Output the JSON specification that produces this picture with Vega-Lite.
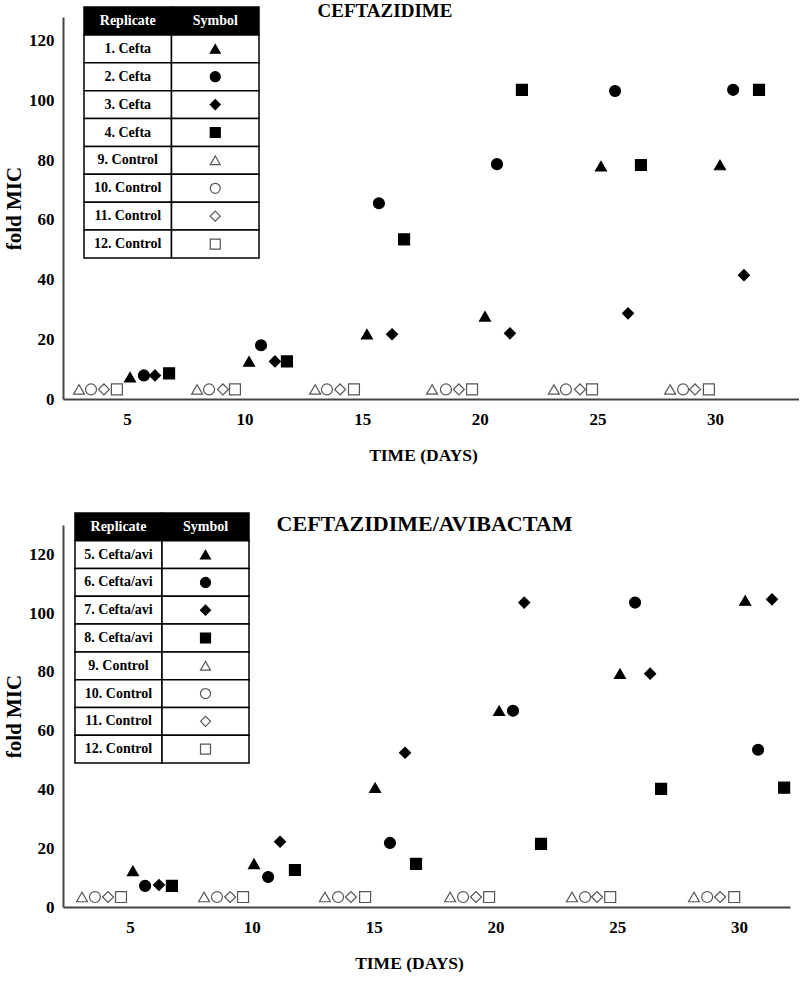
{
  "$schema": "https://vega.github.io/schema/vega-lite/v6.json",
  "padding": {"left": 3, "top": 2, "right": 0, "bottom": 0},
  "spacing": 48,
  "config": {
    "font": "Liberation Serif",
    "view": {"stroke": null},
    "axis": {"domainColor": "#444", "domainWidth": 2, "ticks": false, "tickSize": 0, "grid": false, "labelFont": "Liberation Serif", "labelFontSize": 17, "labelFontWeight": "bold", "labelColor": "#000", "titleFont": "Liberation Serif", "titleFontWeight": "bold", "titleColor": "#000"},
    "axisX": {"labelPadding": 12, "titleFontSize": 17.5, "titlePadding": 19},
    "axisY": {"labelPadding": 9, "titleFontSize": 21, "titlePadding": 4},
    "title": {"font": "Liberation Serif", "fontWeight": "bold", "color": "#000", "frame": "group"}
  },
  "datasets": {
    "hdr": [{"row": 0, "col": "Replicate"}, {"row": 0, "col": "Symbol"}],
    "top_tbl": [
      {"row": 1, "label": "1. Cefta", "sym": "tri", "type": "drug"},
      {"row": 2, "label": "2. Cefta", "sym": "circ", "type": "drug"},
      {"row": 3, "label": "3. Cefta", "sym": "diam", "type": "drug"},
      {"row": 4, "label": "4. Cefta", "sym": "sq", "type": "drug"},
      {"row": 5, "label": "9. Control", "sym": "tri", "type": "control"},
      {"row": 6, "label": "10. Control", "sym": "circ", "type": "control"},
      {"row": 7, "label": "11. Control", "sym": "diam", "type": "control"},
      {"row": 8, "label": "12. Control", "sym": "sq", "type": "control"}
    ],
    "bot_tbl": [
      {"row": 1, "label": "5. Cefta/avi", "sym": "tri", "type": "drug"},
      {"row": 2, "label": "6. Cefta/avi", "sym": "circ", "type": "drug"},
      {"row": 3, "label": "7. Cefta/avi", "sym": "diam", "type": "drug"},
      {"row": 4, "label": "8. Cefta/avi", "sym": "sq", "type": "drug"},
      {"row": 5, "label": "9. Control", "sym": "tri", "type": "control"},
      {"row": 6, "label": "10. Control", "sym": "circ", "type": "control"},
      {"row": 7, "label": "11. Control", "sym": "diam", "type": "control"},
      {"row": 8, "label": "12. Control", "sym": "sq", "type": "control"}
    ],
    "top_pts": [
      {"day": 2.96, "mic": 3.2, "sym": "tri", "type": "control"},
      {"day": 3.47, "mic": 3.2, "sym": "circ", "type": "control"},
      {"day": 4.02, "mic": 3.2, "sym": "diam", "type": "control"},
      {"day": 4.57, "mic": 3.2, "sym": "sq", "type": "control"},
      {"day": 7.98, "mic": 3.2, "sym": "tri", "type": "control"},
      {"day": 8.49, "mic": 3.2, "sym": "circ", "type": "control"},
      {"day": 9.08, "mic": 3.2, "sym": "diam", "type": "control"},
      {"day": 9.59, "mic": 3.2, "sym": "sq", "type": "control"},
      {"day": 13.0, "mic": 3.2, "sym": "tri", "type": "control"},
      {"day": 13.5, "mic": 3.2, "sym": "circ", "type": "control"},
      {"day": 14.06, "mic": 3.2, "sym": "diam", "type": "control"},
      {"day": 14.65, "mic": 3.2, "sym": "sq", "type": "control"},
      {"day": 17.97, "mic": 3.2, "sym": "tri", "type": "control"},
      {"day": 18.56, "mic": 3.2, "sym": "circ", "type": "control"},
      {"day": 19.11, "mic": 3.2, "sym": "diam", "type": "control"},
      {"day": 19.67, "mic": 3.2, "sym": "sq", "type": "control"},
      {"day": 23.15, "mic": 3.2, "sym": "tri", "type": "control"},
      {"day": 23.66, "mic": 3.2, "sym": "circ", "type": "control"},
      {"day": 24.26, "mic": 3.2, "sym": "diam", "type": "control"},
      {"day": 24.77, "mic": 3.2, "sym": "sq", "type": "control"},
      {"day": 28.09, "mic": 3.2, "sym": "tri", "type": "control"},
      {"day": 28.64, "mic": 3.2, "sym": "circ", "type": "control"},
      {"day": 29.15, "mic": 3.2, "sym": "diam", "type": "control"},
      {"day": 29.74, "mic": 3.2, "sym": "sq", "type": "control"},
      {"day": 5.13, "mic": 7.3, "sym": "tri", "type": "drug"},
      {"day": 5.72, "mic": 7.9, "sym": "circ", "type": "drug"},
      {"day": 6.19, "mic": 7.9, "sym": "diam", "type": "drug"},
      {"day": 6.79, "mic": 8.6, "sym": "sq", "type": "drug"},
      {"day": 10.19, "mic": 12.6, "sym": "tri", "type": "drug"},
      {"day": 10.7, "mic": 18.0, "sym": "circ", "type": "drug"},
      {"day": 11.29, "mic": 12.6, "sym": "diam", "type": "drug"},
      {"day": 11.8, "mic": 12.6, "sym": "sq", "type": "drug"},
      {"day": 15.2, "mic": 21.7, "sym": "tri", "type": "drug"},
      {"day": 15.71, "mic": 65.6, "sym": "circ", "type": "drug"},
      {"day": 16.27, "mic": 21.7, "sym": "diam", "type": "drug"},
      {"day": 16.78, "mic": 53.5, "sym": "sq", "type": "drug"},
      {"day": 20.22, "mic": 27.7, "sym": "tri", "type": "drug"},
      {"day": 20.73, "mic": 78.7, "sym": "circ", "type": "drug"},
      {"day": 21.28, "mic": 22.0, "sym": "diam", "type": "drug"},
      {"day": 21.79, "mic": 103.6, "sym": "sq", "type": "drug"},
      {"day": 25.15, "mic": 78.0, "sym": "tri", "type": "drug"},
      {"day": 25.75, "mic": 103.2, "sym": "circ", "type": "drug"},
      {"day": 26.3, "mic": 28.7, "sym": "diam", "type": "drug"},
      {"day": 26.85, "mic": 78.4, "sym": "sq", "type": "drug"},
      {"day": 30.21, "mic": 78.4, "sym": "tri", "type": "drug"},
      {"day": 30.77, "mic": 103.6, "sym": "circ", "type": "drug"},
      {"day": 31.23, "mic": 41.5, "sym": "diam", "type": "drug"},
      {"day": 31.87, "mic": 103.6, "sym": "sq", "type": "drug"}
    ],
    "bot_pts": [
      {"day": 3.03, "mic": 3.4, "sym": "tri", "type": "control"},
      {"day": 3.56, "mic": 3.4, "sym": "circ", "type": "control"},
      {"day": 4.1, "mic": 3.4, "sym": "diam", "type": "control"},
      {"day": 4.63, "mic": 3.4, "sym": "sq", "type": "control"},
      {"day": 8.04, "mic": 3.4, "sym": "tri", "type": "control"},
      {"day": 8.57, "mic": 3.4, "sym": "circ", "type": "control"},
      {"day": 9.11, "mic": 3.4, "sym": "diam", "type": "control"},
      {"day": 9.64, "mic": 3.4, "sym": "sq", "type": "control"},
      {"day": 13.0, "mic": 3.4, "sym": "tri", "type": "control"},
      {"day": 13.54, "mic": 3.4, "sym": "circ", "type": "control"},
      {"day": 14.07, "mic": 3.4, "sym": "diam", "type": "control"},
      {"day": 14.65, "mic": 3.4, "sym": "sq", "type": "control"},
      {"day": 18.14, "mic": 3.4, "sym": "tri", "type": "control"},
      {"day": 18.67, "mic": 3.4, "sym": "circ", "type": "control"},
      {"day": 19.2, "mic": 3.4, "sym": "diam", "type": "control"},
      {"day": 19.74, "mic": 3.4, "sym": "sq", "type": "control"},
      {"day": 23.14, "mic": 3.4, "sym": "tri", "type": "control"},
      {"day": 23.68, "mic": 3.4, "sym": "circ", "type": "control"},
      {"day": 24.17, "mic": 3.4, "sym": "diam", "type": "control"},
      {"day": 24.71, "mic": 3.4, "sym": "sq", "type": "control"},
      {"day": 28.15, "mic": 3.4, "sym": "tri", "type": "control"},
      {"day": 28.69, "mic": 3.4, "sym": "circ", "type": "control"},
      {"day": 29.22, "mic": 3.4, "sym": "diam", "type": "control"},
      {"day": 29.8, "mic": 3.4, "sym": "sq", "type": "control"},
      {"day": 5.12, "mic": 12.3, "sym": "tri", "type": "drug"},
      {"day": 5.62, "mic": 7.2, "sym": "circ", "type": "drug"},
      {"day": 6.19, "mic": 7.5, "sym": "diam", "type": "drug"},
      {"day": 6.72, "mic": 7.2, "sym": "sq", "type": "drug"},
      {"day": 10.09, "mic": 14.7, "sym": "tri", "type": "drug"},
      {"day": 10.67, "mic": 10.2, "sym": "circ", "type": "drug"},
      {"day": 11.16, "mic": 22.2, "sym": "diam", "type": "drug"},
      {"day": 11.77, "mic": 12.6, "sym": "sq", "type": "drug"},
      {"day": 15.06, "mic": 40.6, "sym": "tri", "type": "drug"},
      {"day": 15.67, "mic": 21.8, "sym": "circ", "type": "drug"},
      {"day": 16.29, "mic": 52.5, "sym": "diam", "type": "drug"},
      {"day": 16.74, "mic": 14.7, "sym": "sq", "type": "drug"},
      {"day": 20.15, "mic": 66.8, "sym": "tri", "type": "drug"},
      {"day": 20.72, "mic": 66.8, "sym": "circ", "type": "drug"},
      {"day": 21.18, "mic": 103.6, "sym": "diam", "type": "drug"},
      {"day": 21.87, "mic": 21.5, "sym": "sq", "type": "drug"},
      {"day": 25.11, "mic": 79.4, "sym": "tri", "type": "drug"},
      {"day": 25.73, "mic": 103.6, "sym": "circ", "type": "drug"},
      {"day": 26.35, "mic": 79.4, "sym": "diam", "type": "drug"},
      {"day": 26.8, "mic": 40.2, "sym": "sq", "type": "drug"},
      {"day": 30.25, "mic": 104.3, "sym": "tri", "type": "drug"},
      {"day": 30.78, "mic": 53.5, "sym": "circ", "type": "drug"},
      {"day": 31.35, "mic": 104.7, "sym": "diam", "type": "drug"},
      {"day": 31.85, "mic": 40.6, "sym": "sq", "type": "drug"}
    ]
  },
  "vconcat": [
    {
      "width": 736,
      "height": 382,
      "title": {"text": "CEFTAZIDIME", "fontSize": 19, "offset": -15, "dx": -46},
      "resolve": {"scale": {"x": "independent", "y": "independent"}},
      "layer": [
        {
          "data": {"name": "top_pts"},
          "mark": {"type": "point", "filled": true, "size": 120, "strokeWidth": 1.2, "opacity": 1},
          "encoding": {
            "x": {"field": "day", "type": "quantitative", "scale": {"domain": [2.28, 33.57], "zero": false, "nice": false}, "axis": {"title": "TIME (DAYS)", "values": [5, 10, 15, 20, 25, 30], "titleX": 360}},
            "y": {"field": "mic", "type": "quantitative", "scale": {"domain": [0, 128], "nice": false}, "axis": {"title": "fold MIC", "values": [0, 20, 40, 60, 80, 100, 120]}},
            "shape": {"field": "sym", "type": "nominal", "scale": {"domain": ["tri", "circ", "diam", "sq"], "range": ["triangle-up", "circle", "diamond", "square"]}, "legend": null},
            "fill": {"field": "type", "type": "nominal", "scale": {"domain": ["drug", "control"], "range": ["#000000", "#ffffff"]}, "legend": null},
            "stroke": {"field": "type", "type": "nominal", "scale": {"domain": ["drug", "control"], "range": ["#000000", "#555555"]}, "legend": null}
          }
        },
        {
          "layer": [
            {
              "data": {"name": "hdr"},
              "mark": {"type": "rect", "fill": "#000", "stroke": "#000", "strokeWidth": 1.5},
              "encoding": {
                "x": {"field": "col", "type": "nominal", "scale": {"domain": ["Replicate", "Symbol"], "range": [21, 196], "paddingInner": 0, "paddingOuter": 0}, "axis": null},
                "y": {"field": "row", "type": "ordinal", "scale": {"domain": [0, 1, 2, 3, 4, 5, 6, 7, 8], "range": [-10, 241], "paddingInner": 0, "paddingOuter": 0}, "axis": null}
              }
            },
            {
              "data": {"name": "hdr"},
              "mark": {"type": "text", "color": "#fff", "font": "Liberation Serif", "fontSize": 14, "fontWeight": "bold"},
              "encoding": {
                "x": {"field": "col", "type": "nominal"},
                "y": {"field": "row", "type": "ordinal"},
                "text": {"field": "col"}
              }
            },
            {
              "data": {"name": "top_tbl"},
              "mark": {"type": "rect", "fill": "#fff", "stroke": "#000", "strokeWidth": 1.5},
              "encoding": {"x": {"datum": "Replicate", "type": "nominal"}, "y": {"field": "row", "type": "ordinal"}}
            },
            {
              "data": {"name": "top_tbl"},
              "mark": {"type": "rect", "fill": "#fff", "stroke": "#000", "strokeWidth": 1.5},
              "encoding": {"x": {"datum": "Symbol", "type": "nominal"}, "y": {"field": "row", "type": "ordinal"}}
            },
            {
              "data": {"name": "top_tbl"},
              "mark": {"type": "text", "color": "#000", "font": "Liberation Serif", "fontSize": 14, "fontWeight": "bold"},
              "encoding": {"x": {"datum": "Replicate", "type": "nominal"}, "y": {"field": "row", "type": "ordinal"}, "text": {"field": "label"}}
            },
            {
              "data": {"name": "top_tbl"},
              "mark": {"type": "point", "filled": true, "size": 100, "strokeWidth": 1.2, "opacity": 1},
              "encoding": {
                "x": {"datum": "Symbol", "type": "nominal"},
                "y": {"field": "row", "type": "ordinal"},
                "shape": {"field": "sym", "type": "nominal", "legend": null},
                "fill": {"field": "type", "type": "nominal", "legend": null},
                "stroke": {"field": "type", "type": "nominal", "legend": null}
              }
            }
          ]
        }
      ]
    },
    {
      "width": 727,
      "height": 382,
      "title": {"text": "CEFTAZIDIME/AVIBACTAM", "fontSize": 22, "offset": -24, "dx": -2},
      "resolve": {"scale": {"x": "independent", "y": "independent"}},
      "layer": [
        {
          "data": {"name": "bot_pts"},
          "mark": {"type": "point", "filled": true, "size": 120, "strokeWidth": 1.2, "opacity": 1},
          "encoding": {
            "x": {"field": "day", "type": "quantitative", "scale": {"domain": [2.25, 32.09], "zero": false, "nice": false}, "axis": {"title": "TIME (DAYS)", "values": [5, 10, 15, 20, 25, 30], "titleX": 346}},
            "y": {"field": "mic", "type": "quantitative", "scale": {"domain": [0, 130], "nice": false}, "axis": {"title": "fold MIC", "values": [0, 20, 40, 60, 80, 100, 120]}},
            "shape": {"field": "sym", "type": "nominal", "scale": {"domain": ["tri", "circ", "diam", "sq"], "range": ["triangle-up", "circle", "diamond", "square"]}, "legend": null},
            "fill": {"field": "type", "type": "nominal", "scale": {"domain": ["drug", "control"], "range": ["#000000", "#ffffff"]}, "legend": null},
            "stroke": {"field": "type", "type": "nominal", "scale": {"domain": ["drug", "control"], "range": ["#000000", "#555555"]}, "legend": null}
          }
        },
        {
          "layer": [
            {
              "data": {"name": "hdr"},
              "mark": {"type": "rect", "fill": "#000", "stroke": "#000", "strokeWidth": 1.5},
              "encoding": {
                "x": {"field": "col", "type": "nominal", "scale": {"domain": ["Replicate", "Symbol"], "range": [12, 186], "paddingInner": 0, "paddingOuter": 0}, "axis": null},
                "y": {"field": "row", "type": "ordinal", "scale": {"domain": [0, 1, 2, 3, 4, 5, 6, 7, 8], "range": [-12, 238], "paddingInner": 0, "paddingOuter": 0}, "axis": null}
              }
            },
            {
              "data": {"name": "hdr"},
              "mark": {"type": "text", "color": "#fff", "font": "Liberation Serif", "fontSize": 14, "fontWeight": "bold"},
              "encoding": {
                "x": {"field": "col", "type": "nominal"},
                "y": {"field": "row", "type": "ordinal"},
                "text": {"field": "col"}
              }
            },
            {
              "data": {"name": "bot_tbl"},
              "mark": {"type": "rect", "fill": "#fff", "stroke": "#000", "strokeWidth": 1.5},
              "encoding": {"x": {"datum": "Replicate", "type": "nominal"}, "y": {"field": "row", "type": "ordinal"}}
            },
            {
              "data": {"name": "bot_tbl"},
              "mark": {"type": "rect", "fill": "#fff", "stroke": "#000", "strokeWidth": 1.5},
              "encoding": {"x": {"datum": "Symbol", "type": "nominal"}, "y": {"field": "row", "type": "ordinal"}}
            },
            {
              "data": {"name": "bot_tbl"},
              "mark": {"type": "text", "color": "#000", "font": "Liberation Serif", "fontSize": 14, "fontWeight": "bold"},
              "encoding": {"x": {"datum": "Replicate", "type": "nominal"}, "y": {"field": "row", "type": "ordinal"}, "text": {"field": "label"}}
            },
            {
              "data": {"name": "bot_tbl"},
              "mark": {"type": "point", "filled": true, "size": 100, "strokeWidth": 1.2, "opacity": 1},
              "encoding": {
                "x": {"datum": "Symbol", "type": "nominal"},
                "y": {"field": "row", "type": "ordinal"},
                "shape": {"field": "sym", "type": "nominal", "legend": null},
                "fill": {"field": "type", "type": "nominal", "legend": null},
                "stroke": {"field": "type", "type": "nominal", "legend": null}
              }
            }
          ]
        }
      ]
    }
  ]
}
